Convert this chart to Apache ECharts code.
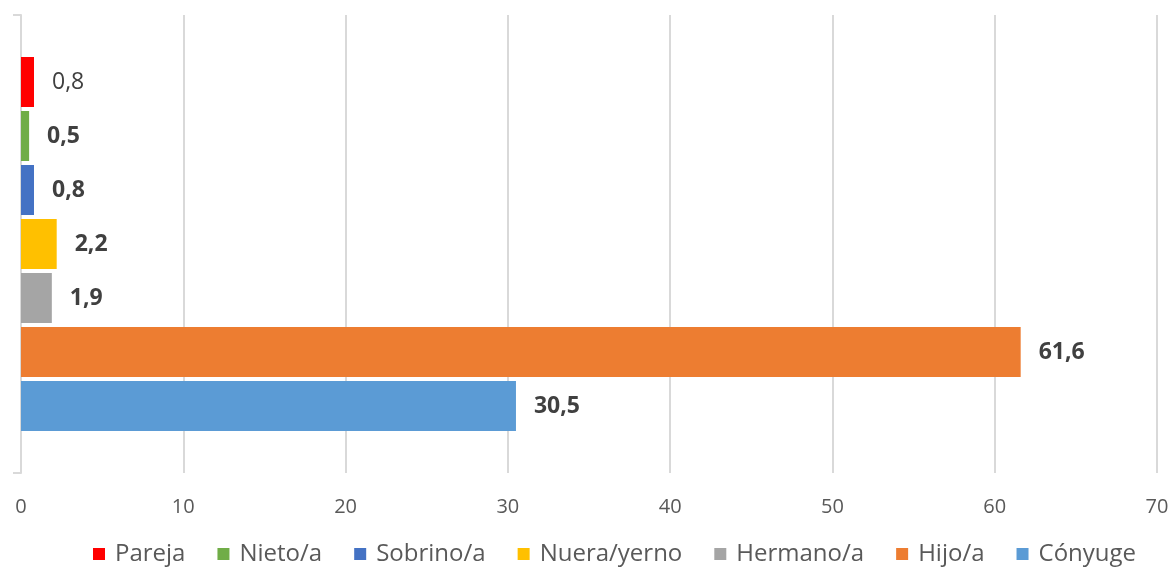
<!doctype html>
<html>
<head>
    <meta charset="UTF-8">
    <title>Parentesco</title>
    <script src="https://cdn.jsdelivr.net/npm/echarts@6/dist/echarts.min.js"></script>
    <style>
        html, body { margin: 0; padding: 0; background: #fff; }
        #main { width: 1176px; height: 569px; }
    </style>
</head>
<body>
<div id="main"></div>
<script>
    // series listed top -> bottom, as drawn
    var names  = ['Pareja', 'Nieto/a', 'Sobrino/a', 'Nuera/yerno', 'Hermano/a', 'Hijo/a', 'Cónyuge'];
    var values = [0.8, 0.5, 0.8, 2.2, 1.9, 61.6, 30.5];
    var colors = ['#FF0000', '#70AD47', '#4472C4', '#FFC000', '#A5A5A5', '#ED7D31', '#5B9BD5'];
    var xTicks = [0, 10, 20, 30, 40, 50, 60, 70];

    var font = '"Open Sans", "Noto Sans", sans-serif';
    var dom = document.getElementById('main');
    var myChart = echarts.init(dom);

    var series = names.map(function (n, i) {
        return {
            name: n,
            type: 'bar',
            data: [values[i]],
            barWidth: 50,
            barGap: '8%',
            itemStyle: { color: colors[i] },
            label: {
                show: true,
                position: 'right',
                distance: 18,
                color: '#404040',
                fontFamily: font,
                fontSize: 23,
                fontWeight: n === 'Pareja' ? 'normal' : 'bold',
                formatter: function (p) {
                    return String(p.value).replace('.', ',');
                }
            }
        };
    });

    var option = {
        animation: false,
        legend: {
            data: names,
            bottom: -2,
            left: 88,
            itemWidth: 12,
            itemHeight: 12,
            itemGap: 32,
            icon: 'rect',
            textStyle: { color: '#595959', fontFamily: font, fontSize: 24, padding: [0, 0, 0, 5] }
        },
        grid: {
            left: 21,
            right: 19,
            top: 15,
            bottom: 96
        },
        xAxis: {
            type: 'value',
            min: xTicks[0],
            max: xTicks[xTicks.length - 1],
            interval: 10,
            axisLine: { show: false },
            axisTick: { show: false },
            axisLabel: {
                color: '#595959',
                fontFamily: font,
                fontSize: 20,
                margin: 24
            },
            splitLine: { show: true, lineStyle: { color: '#D9D9D9', width: 2 } }
        },
        yAxis: {
            type: 'category',
            data: [''],
            axisLine: { show: true, lineStyle: { color: '#D9D9D9', width: 2 } },
            axisTick: { show: true, length: 8, lineStyle: { color: '#D9D9D9', width: 2 } },
            axisLabel: { show: false }
        },
        series: series
    };
    myChart.setOption(option, true);
</script>
</body>
</html>
